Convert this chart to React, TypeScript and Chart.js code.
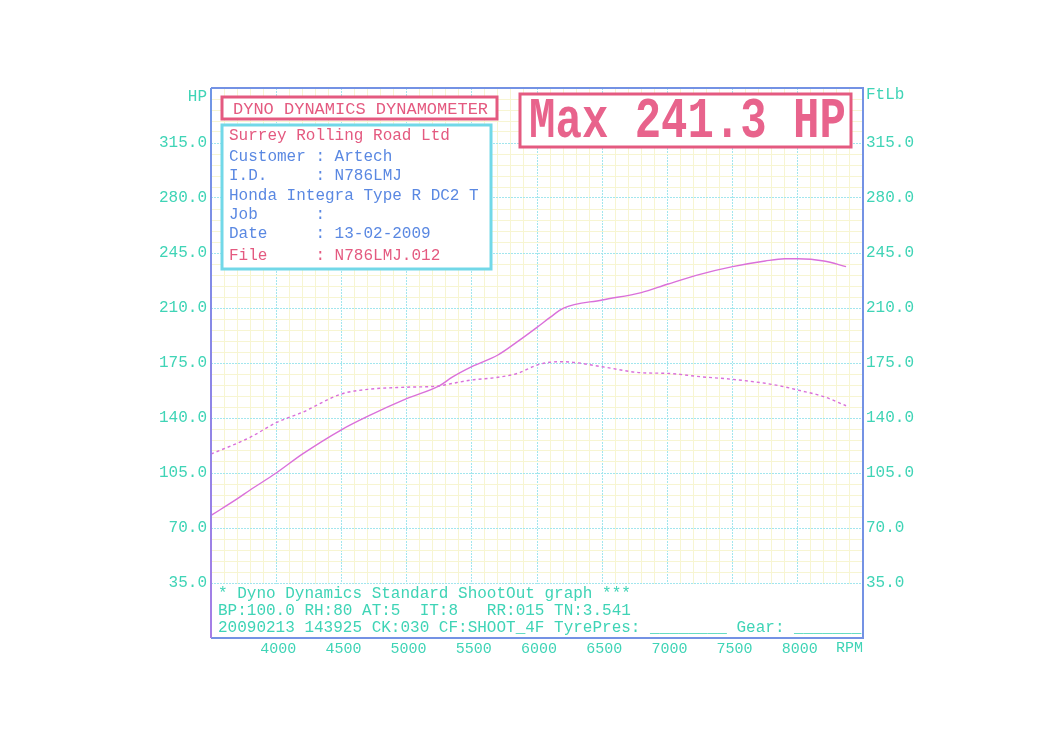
import { useEffect, useRef } from 'react';
import { Chart, registerables } from 'chart.js';

Chart.register(...registerables);

// ---- data read from the dyno sheet ----
const rpm = [3500, 3700, 3800, 4000, 4200, 4500, 4700, 5000, 5250, 5350, 5500, 5700, 5850, 6000, 6100, 6200, 6500, 6800, 7000, 7250, 7500, 7750, 7900, 8000, 8200, 8370];
const powerHp = [78, 88.5, 94.2, 105, 117, 132.5, 141, 152.3, 160.4, 166, 172.7, 180.1, 188.6, 197.7, 204, 209.8, 215.1, 219.8, 225.1, 231.4, 236.3, 239.9, 241.3, 241.3, 239.9, 236.3];
const torqueFtLb = [117.1, 123.9, 127.7, 137, 143.6, 155.3, 158.2, 159.6, 160.4, 162, 164.2, 165.9, 168.4, 173.7, 175.5, 175.8, 172.6, 168.8, 168.4, 166.3, 164.6, 162.1, 159.8, 157.8, 153.6, 147.8];

const xTickLabels = [4000, 4500, 5000, 5500, 6000, 6500, 7000, 7500, 8000];
const yTickLabels = [35, 70, 105, 140, 175, 210, 245, 280, 315];

const titleText = 'DYNO DYNAMICS DYNAMOMETER';
const maxText = 'Max 241.3 HP';
const infoLines = [
  { text: 'Surrey Rolling Road Ltd', red: true },
  { text: 'Customer : Artech', red: false },
  { text: 'I.D.     : N786LMJ', red: false },
  { text: 'Honda Integra Type R DC2 T', red: false },
  { text: 'Job      :', red: false },
  { text: 'Date     : 13-02-2009', red: false },
  { text: 'File     : N786LMJ.012', red: true },
];
const footerLines = [
  '* Dyno Dynamics Standard ShootOut graph ***',
  'BP:100.0 RH:80 AT:5  IT:8   RR:015 TN:3.541',
  '20090213 143925 CK:030 CF:SHOOT_4F TyrePres: ________ Gear: _______',
];

// ---- styles ----
const MONO = "'Liberation Mono', 'DejaVu Sans Mono', monospace";
const TEAL = '#3fd4b6';
const RED = '#e45a80';
const BLUE_TEXT = '#5a88e2';
const CYAN_BOX = '#72d8e8';
const GRID_MAJOR = '#a2e6ee';
const GRID_MINOR = '#f7f5d2';
const FRAME = '#7492e4';
const CURVE = 'rgb(218,112,218)';

const overlayPlugin = {
  id: 'dynoOverlay',
  beforeDatasetsDraw(chart: any) {
    const { ctx, chartArea: a, scales } = chart;
    const y35 = Math.round(scales.y.getPixelForValue(35));
    ctx.save();
    // white footer area below the 35 line
    ctx.fillStyle = '#ffffff';
    ctx.fillRect(a.left, y35 + 1, a.right - a.left, a.bottom - y35 - 1);

    // title box
    const tx = a.left + 11, ty = a.top + 9;
    ctx.fillRect(tx, ty, 275, 22);
    ctx.strokeStyle = RED;
    ctx.lineWidth = 3;
    ctx.strokeRect(tx, ty, 275, 22);
    ctx.fillStyle = RED;
    ctx.font = `17px ${MONO}`;
    ctx.textBaseline = 'middle';
    ctx.textAlign = 'left';
    ctx.fillText(titleText, tx + 11, ty + 12);

    // info box
    const ix = a.left + 11, iy = a.top + 37;
    ctx.fillStyle = '#ffffff';
    ctx.fillRect(ix, iy, 269, 144);
    ctx.strokeStyle = CYAN_BOX;
    ctx.lineWidth = 3;
    ctx.strokeRect(ix, iy, 269, 144);
    const lineY = [11, 32, 51, 71, 90, 109, 131];
    ctx.font = `16px ${MONO}`;
    infoLines.forEach((l, i) => {
      ctx.fillStyle = l.red ? RED : BLUE_TEXT;
      ctx.fillText(l.text, ix + 7, iy + lineY[i]);
    });

    // max box
    const mx = a.left + 309, my = a.top + 6, mw = 331, mh = 53;
    ctx.fillStyle = '#ffffff';
    ctx.fillRect(mx, my, mw, mh);
    ctx.strokeStyle = RED;
    ctx.lineWidth = 3;
    ctx.strokeRect(mx, my, mw, mh);
    ctx.save();
    ctx.translate(mx + mw / 2 + 2, my + mh / 2 + 2);
    ctx.scale(1, 1.3);
    ctx.fillStyle = '#e8638c';
    ctx.font = `bold 44px ${MONO}`;
    ctx.textAlign = 'center';
    ctx.fillText(maxText, 0, 0);
    ctx.restore();

    // footer text
    ctx.fillStyle = TEAL;
    ctx.font = `16px ${MONO}`;
    ctx.textAlign = 'left';
    footerLines.forEach((t, i) => {
      ctx.fillText(t, a.left + 7, y35 + 11 + i * 17);
    });
    ctx.restore();
  },
  afterDraw(chart: any) {
    const { ctx, chartArea: a } = chart;
    ctx.save();
    ctx.lineWidth = 2;
    ctx.strokeStyle = FRAME;
    ctx.beginPath();
    ctx.moveTo(a.left, a.top);
    ctx.lineTo(a.right, a.top);
    ctx.lineTo(a.right, a.bottom);
    ctx.lineTo(a.left, a.bottom);
    ctx.stroke();
    const g = ctx.createLinearGradient(0, a.top, 0, a.bottom);
    g.addColorStop(0, '#6f96e6');
    g.addColorStop(0.5, '#8a86e6');
    g.addColorStop(1, '#a67ee6');
    ctx.strokeStyle = g;
    ctx.beginPath();
    ctx.moveTo(a.left, a.top);
    ctx.lineTo(a.left, a.bottom);
    ctx.stroke();

    // axis unit labels
    ctx.fillStyle = TEAL;
    ctx.font = `16px ${MONO}`;
    ctx.textBaseline = 'middle';
    ctx.textAlign = 'right';
    ctx.fillText('HP', a.left - 4, a.top + 9);
    ctx.textAlign = 'left';
    ctx.fillText('FtLb', a.right + 3, a.top + 7);
    ctx.font = `15px ${MONO}`;
    ctx.textAlign = 'right';
    ctx.fillText('RPM', a.right, a.bottom + 10);
    ctx.restore();
  },
};

export default function App() {
  const ref = useRef<HTMLCanvasElement>(null);

  useEffect(() => {
    const canvas = ref.current;
    if (!canvas) return;
    const isMajorX = (v: number) => Math.round(v) % 500 === 0;
    const isMajorY = (v: number) => Math.round(v) % 35 === 0;
    const yLabel = (v: any) => {
      const r = Math.round(Number(v));
      return yTickLabels.includes(r) ? r.toFixed(1) : '';
    };
    const chart = new Chart(canvas, {
      type: 'line',
      data: {
        datasets: [
          {
            label: 'Power (HP)',
            data: rpm.map((r, i) => ({ x: r, y: powerHp[i] })),
            borderColor: CURVE,
            borderWidth: 1.4,
            pointRadius: 0,
            cubicInterpolationMode: 'monotone',
            fill: false,
            yAxisID: 'y',
          },
          {
            label: 'Torque (FtLb)',
            data: rpm.map((r, i) => ({ x: r, y: torqueFtLb[i] })),
            borderColor: CURVE,
            borderWidth: 1.4,
            borderDash: [3, 3],
            pointRadius: 0,
            cubicInterpolationMode: 'monotone',
            fill: false,
            yAxisID: 'y',
          },
        ],
      },
      options: {
        responsive: false,
        animation: false,
        devicePixelRatio: 1,
        layout: { padding: { left: 0, right: 0, top: 88, bottom: 0 } },
        plugins: { legend: { display: false }, tooltip: { enabled: false } },
        scales: {
          x: {
            type: 'linear',
            min: 3500,
            max: 8500,
            afterFit: (s: any) => { s.height = 106; },
            ticks: {
              stepSize: 100,
              autoSkip: false,
              maxRotation: 0,
              minRotation: 0,
              padding: 2,
              labelOffset: 2,
              color: TEAL,
              font: { family: MONO, size: 15 },
              callback: (v: any) => (xTickLabels.includes(Math.round(Number(v))) ? String(Math.round(Number(v))) : ''),
            },
            grid: {
              drawTicks: false,
              lineWidth: 1,
              color: (c: any) => (c.tick && isMajorX(c.tick.value) ? GRID_MAJOR : GRID_MINOR),
            },
            border: {
              display: false,
              dash: (c: any) => (c.tick && isMajorX(c.tick.value) ? [2, 1] : []),
            },
          },
          y: {
            position: 'left',
            min: 0,
            max: 350,
            afterFit: (s: any) => { s.width = 211; },
            ticks: {
              stepSize: 7,
              autoSkip: false,
              padding: 4,
              color: TEAL,
              font: { family: MONO, size: 16 },
              callback: yLabel,
            },
            grid: {
              drawTicks: false,
              lineWidth: 1,
              color: (c: any) => (c.tick && isMajorY(c.tick.value) ? GRID_MAJOR : GRID_MINOR),
            },
            border: {
              display: false,
              dash: (c: any) => (c.tick && isMajorY(c.tick.value) ? [2, 1] : []),
            },
          },
          y2: {
            position: 'right',
            min: 0,
            max: 350,
            afterFit: (s: any) => { s.width = 190; },
            ticks: {
              stepSize: 7,
              autoSkip: false,
              padding: 3,
              color: TEAL,
              font: { family: MONO, size: 16 },
              callback: yLabel,
            },
            grid: { display: false, drawTicks: false },
            border: { display: false },
          },
        },
      } as any,
      plugins: [overlayPlugin],
    });
    return () => chart.destroy();
  }, []);

  return (
    <div style={{ position: 'absolute', left: 0, top: 0, width: 1053, height: 744, background: '#ffffff' }}>
      <canvas ref={ref} width={1053} height={744} style={{ display: 'block' }} />
    </div>
  );
}
